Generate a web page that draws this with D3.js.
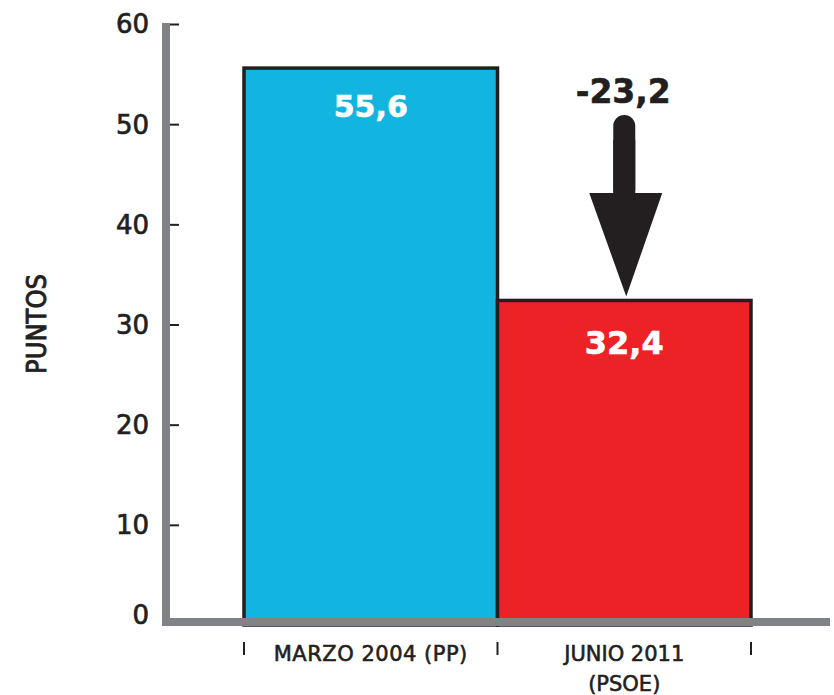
<!DOCTYPE html>
<html>
<head>
<meta charset="utf-8">
<script src="https://cdn.jsdelivr.net/npm/d3@7"></script>
<style>
  html, body { margin: 0; padding: 0; background: #fff; }
  svg { display: block; }
</style>
</head>
<body>
<svg id="chart" width="834" height="695"></svg>
<script>
// ---- data ----
const categories = ["MARZO 2004 (PP)", "JUNIO 2011\n(PSOE)"];
const values = [55.6, 32.4];
const valueLabels = ["55,6", "32,4"];
const changeLabel = "-23,2";
const yTicks = [0, 10, 20, 30, 40, 50, 60];
const yTitle = "PUNTOS";

// ---- styles ----
const colors = ["#12b5e0", "#ec2227"];
const dark = "#231f20";
const gray = "#808285";
const fontMain = "'DejaVu Sans', 'Liberation Sans', sans-serif";

const svg = d3.select("#chart");

const y = d3.scaleLinear().domain([0, 60]).range([625, 24]);
const x = d3.scaleBand().domain(categories).range([244, 751]).padding(0);

// bars
svg.selectAll("rect.bar")
  .data(values)
  .enter().append("rect")
  .attr("class", "bar")
  .attr("x", (d, i) => x(categories[i]))
  .attr("width", x.bandwidth())
  .attr("y", d => y(d))
  .attr("height", d => y(0) - y(d))
  .attr("fill", (d, i) => colors[i])
  .attr("stroke", dark)
  .attr("stroke-width", 3.5);

// y axis gray bar
svg.append("rect")
  .attr("x", 162).attr("y", y(60) - 1)
  .attr("width", 8).attr("height", y(0) + 1 - (y(60) - 1))
  .attr("fill", gray);

// x axis gray bar
svg.append("rect")
  .attr("x", 162).attr("y", 618)
  .attr("width", 830 - 162).attr("height", 8)
  .attr("fill", gray);

// y ticks and labels
const yAxis = d3.axisRight(y)
  .tickValues(yTicks.filter(t => t > 0))
  .tickSize(9)
  .tickFormat("");
const yg = svg.append("g").attr("transform", "translate(170,0)").call(yAxis);
yg.select(".domain").remove();
yg.selectAll(".tick line").attr("stroke", dark).attr("stroke-width", 2);

svg.selectAll("text.ytick")
  .data(yTicks)
  .enter().append("text")
  .attr("class", "ytick")
  .attr("x", 149)
  .attr("y", d => y(d) + (d === 0 ? -10 : 0))
  .attr("dy", "0.36em")
  .attr("text-anchor", "end")
  .attr("font-family", fontMain)
  .attr("font-size", 26)
  .attr("fill", dark)
  .attr("stroke", dark)
  .attr("stroke-width", 0.7)
  .text(d => d);

// y title
svg.append("text")
  .attr("transform", "translate(46,324) rotate(-90)")
  .attr("text-anchor", "middle")
  .attr("font-family", "'DejaVu Sans Condensed', 'DejaVu Sans', sans-serif")
  .attr("font-stretch", "condensed")
  .attr("font-size", 27)
  .attr("fill", dark)
  .attr("stroke", dark)
  .attr("stroke-width", 0.9)
  .text(yTitle);

// x tick marks at band edges
const edges = categories.map(c => x(c)).concat([x(categories[categories.length - 1]) + x.bandwidth()]);
svg.selectAll("line.xtick")
  .data(edges)
  .enter().append("line")
  .attr("class", "xtick")
  .attr("x1", d => d).attr("x2", d => d)
  .attr("y1", 642).attr("y2", 655)
  .attr("stroke", dark).attr("stroke-width", 2);

// category labels
categories.forEach((c, i) => {
  const lines = c.split("\n");
  const t = svg.append("text")
    .attr("x", x(c) + x.bandwidth() / 2)
    .attr("y", 661)
    .attr("text-anchor", "middle")
    .attr("font-family", fontMain)
    .attr("font-size", 21)
    .attr("letter-spacing", i === 0 ? 0.5 : 0)
    .attr("fill", dark)
    .attr("stroke", dark)
    .attr("stroke-width", 0.6);
  lines.forEach((l, j) => {
    t.append("tspan")
      .attr("x", x(c) + x.bandwidth() / 2)
      .attr("dy", j === 0 ? 0 : 30)
      .text(l);
  });
});

// value labels
svg.selectAll("text.val")
  .data(values)
  .enter().append("text")
  .attr("class", "val")
  .attr("x", (d, i) => x(categories[i]) + x.bandwidth() / 2)
  .attr("y", d => y(d) + (d > 50 ? 49 : 54))
  .attr("text-anchor", "middle")
  .attr("font-family", fontMain)
  .attr("font-weight", "bold")
  .attr("font-size", (d, i) => i === 0 ? 30 : 32)
  .attr("fill", "#fff")
  .attr("stroke", "#fff")
  .attr("stroke-width", 0.6)
  .text((d, i) => valueLabels[i]);

// change arrow
const cx = x(categories[1]) + x.bandwidth() / 2 + 1;
const tipY = y(values[1]) - 4;
svg.append("text")
  .attr("x", cx - 2)
  .attr("y", 103)
  .attr("text-anchor", "middle")
  .attr("font-family", fontMain)
  .attr("font-weight", "bold")
  .attr("font-size", 33)
  .attr("fill", dark)
  .attr("stroke", dark)
  .attr("stroke-width", 0.6)
  .text(changeLabel);

svg.append("rect")
  .attr("x", cx - 12).attr("y", 115)
  .attr("width", 22).attr("height", 85)
  .attr("rx", 11).attr("ry", 11)
  .attr("fill", dark);
svg.append("rect")
  .attr("x", cx - 12).attr("y", 140)
  .attr("width", 22).attr("height", 60)
  .attr("fill", dark);
svg.append("path")
  .attr("d", `M${cx - 36},193 L${cx + 37},193 L${cx + 1},${tipY} Z`)
  .attr("fill", dark);
</script>
</body>
</html>
